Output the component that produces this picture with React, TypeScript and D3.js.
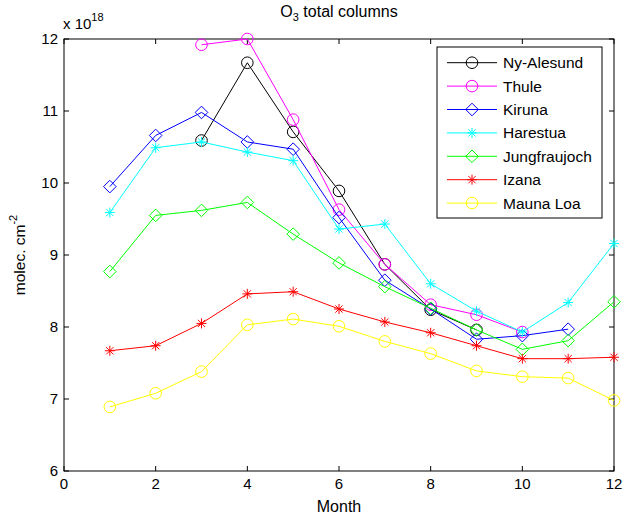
import React from "react";
import * as d3 from "d3";

const months = [1, 2, 3, 4, 5, 6, 7, 8, 9, 10, 11, 12];
const nyAlesund = [null, null, 10.59, 11.67, 10.71, 9.89, 8.87, 8.24, 7.96, null, null, null];
const thule = [null, null, 11.92, 12.0, 10.88, 9.63, 8.87, 8.31, 8.17, 7.93, null, null];
const kiruna = [9.95, 10.66, 10.98, 10.57, 10.47, 9.52, 8.65, 8.25, 7.83, 7.88, 7.97, null];
const harestua = [9.59, 10.49, 10.57, 10.43, 10.31, 9.36, 9.43, 8.6, 8.22, 7.93, 8.34, 9.16];
const jungfraujoch = [8.77, 9.55, 9.62, 9.73, 9.29, 8.89, 8.56, 8.26, 7.96, 7.69, 7.81, 8.35];
const izana = [7.67, 7.74, 8.05, 8.46, 8.49, 8.25, 8.07, 7.92, 7.74, 7.56, 7.56, 7.58];
const maunaLoa = [6.89, 7.08, 7.38, 8.03, 8.11, 8.01, 7.8, 7.63, 7.39, 7.31, 7.29, 6.98];

const xTicks = [0, 2, 4, 6, 8, 10, 12];
const yTicks = [6, 7, 8, 9, 10, 11, 12];

type Marker = "circle" | "diamond" | "star";
const series: { name: string; values: (number | null)[]; color: string; marker: Marker }[] = [
  { name: "Ny-Alesund", values: nyAlesund, color: "#000000", marker: "circle" },
  { name: "Thule", values: thule, color: "#ff00ff", marker: "circle" },
  { name: "Kiruna", values: kiruna, color: "#0000ff", marker: "diamond" },
  { name: "Harestua", values: harestua, color: "#00ffff", marker: "star" },
  { name: "Jungfraujoch", values: jungfraujoch, color: "#00ff00", marker: "diamond" },
  { name: "Izana", values: izana, color: "#ff0000", marker: "star" },
  { name: "Mauna Loa", values: maunaLoa, color: "#ffff00", marker: "circle" },
];

const L = 64, R = 614, T = 39, B = 471;
const FONT = "'Liberation Sans', Arial, Helvetica, sans-serif";

function MarkerShape({ type, x, y, color }: { type: Marker; x: number; y: number; color: string }) {
  if (type === "circle") return <circle cx={x} cy={y} r={5.8} fill="none" stroke={color} strokeWidth={1} />;
  if (type === "diamond") {
    const s = 6.3;
    return <path d={`M${x},${y - s}L${x + s},${y}L${x},${y + s}L${x - s},${y}Z`} fill="none" stroke={color} strokeWidth={1} />;
  }
  const s = 5, d = 3.6;
  return (
    <path
      d={`M${x - s},${y}L${x + s},${y}M${x},${y - s}L${x},${y + s}M${x - d},${y - d}L${x + d},${y + d}M${x - d},${y + d}L${x + d},${y - d}`}
      stroke={color}
      strokeWidth={1}
      fill="none"
    />
  );
}

export default function App() {
  const x = d3.scaleLinear().domain([0, 12]).range([L, R]);
  const y = d3.scaleLinear().domain([6, 12]).range([B, T]);
  const line = d3
    .line<[number, number | null]>()
    .defined((d) => d[1] !== null)
    .x((d) => x(d[0]))
    .y((d) => y(d[1] as number));

  const legX = 437, legY = 47, legW = 165, legH = 171;
  const rowY = (i: number) => 62.7 + i * 23.4;

  return (
    <svg width={623} height={518} style={{ position: "absolute", left: 0, top: 0 }} fontFamily={FONT}>
      <rect x={0} y={0} width={623} height={518} fill="#fff" />
      <rect x={L} y={T} width={R - L} height={B - T} fill="none" stroke="#000" strokeWidth={1} />
      {xTicks.map((t) => (
        <g key={"x" + t}>
          <line x1={x(t)} x2={x(t)} y1={B} y2={B - 5} stroke="#000" />
          <line x1={x(t)} x2={x(t)} y1={T} y2={T + 5} stroke="#000" />
          <text x={x(t)} y={B + 18} fontSize={15} textAnchor="middle" fill="#000">{t}</text>
        </g>
      ))}
      {yTicks.map((t) => (
        <g key={"y" + t}>
          <line x1={L} x2={L + 5} y1={y(t)} y2={y(t)} stroke="#000" />
          <line x1={R} x2={R - 5} y1={y(t)} y2={y(t)} stroke="#000" />
          <text x={L - 6} y={y(t) + 5} fontSize={15} textAnchor="end" fill="#000">{t}</text>
        </g>
      ))}
      {series.map((s) => {
        const pts = months.map((m, i) => [m, s.values[i]] as [number, number | null]);
        return (
          <g key={s.name}>
            <path d={line(pts) || ""} fill="none" stroke={s.color} strokeWidth={1} />
            {pts
              .filter((p) => p[1] !== null)
              .map((p) => (
                <MarkerShape key={p[0]} type={s.marker} x={x(p[0])} y={y(p[1] as number)} color={s.color} />
              ))}
          </g>
        );
      })}
      <rect x={legX} y={legY} width={legW} height={legH} fill="#fff" stroke="#000" strokeWidth={1} />
      {series.map((s, i) => (
        <g key={"l" + s.name}>
          <line x1={447} x2={497} y1={rowY(i)} y2={rowY(i)} stroke={s.color} strokeWidth={1} />
          <MarkerShape type={s.marker} x={472} y={rowY(i)} color={s.color} />
          <text x={503} y={rowY(i) + 5.5} fontSize={15.5} fill="#000">{s.name}</text>
        </g>
      ))}
      <text x={339} y={17} fontSize={16} textAnchor="middle" fill="#000">
        O<tspan fontSize={11} dy={4}>3</tspan><tspan dy={-4}> total columns</tspan>
      </text>
      <text x={63} y={29} fontSize={15} fill="#000">
        x 10<tspan fontSize={11} dy={-8}>18</tspan>
      </text>
      <text x={339} y={512} fontSize={16} textAnchor="middle" fill="#000">Month</text>
      <text transform={`translate(25,${(T + B) / 2}) rotate(-90)`} fontSize={15.5} textAnchor="middle" fill="#000">
        molec. cm<tspan fontSize={11} dy={-8}>-2</tspan>
      </text>
    </svg>
  );
}
